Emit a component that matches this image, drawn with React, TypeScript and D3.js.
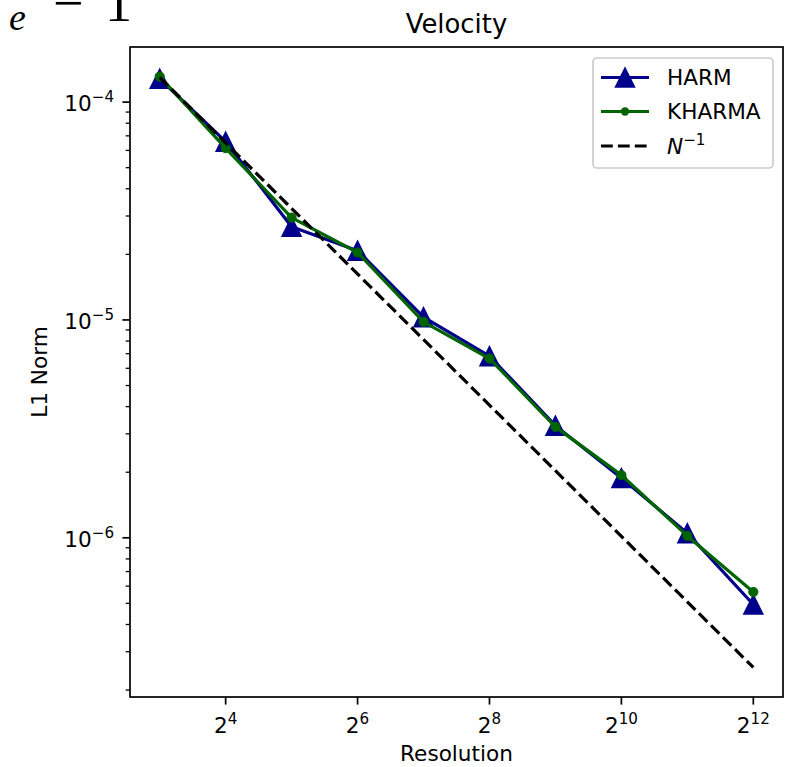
import React from "react";
import * as d3 from "d3";

const resolutions = [8, 16, 32, 64, 128, 256, 512, 1024, 2048, 4096];
const harmValues = [1.28e-4, 6.58e-5, 2.68e-5, 2.08e-5, 1.03e-5, 6.82e-6, 3.27e-6, 1.88e-6, 1.05e-6, 4.94e-7];
const kharmaValues = [1.31e-4, 6.15e-5, 2.95e-5, 2.04e-5, 9.8e-6, 6.65e-6, 3.23e-6, 1.94e-6, 1.02e-6, 5.64e-7];
const refResolutions = [8, 4096];
const refValues = [1.3e-4, 2.54e-7];
const xTickExps = [4, 6, 8, 10, 12];
const yTickExps = [-4, -5, -6];
const legendLabels = ["HARM", "KHARMA"];

const W = 800;
const H = 767;
const L = 130, R = 783, T = 47, B = 697;
const FONT = "DejaVu Sans, sans-serif";
const FS = 21.6;
const HARM_C = "#00008b";
const KHARMA_C = "#006400";
const LW = 3.2;

function logPad(vals: number[], base: number): [number, number] {
  const lo = Math.log(d3.min(vals)!) / Math.log(base);
  const hi = Math.log(d3.max(vals)!) / Math.log(base);
  const m = (hi - lo) * 0.05;
  return [Math.pow(base, lo - m), Math.pow(base, hi + m)];
}

export default function App() {
  const xDom = logPad(resolutions, 2);
  const yDom = logPad([...harmValues, ...kharmaValues, ...refValues], 10);
  const x = d3.scaleLog().base(2).domain(xDom).range([L, R]);
  const y = d3.scaleLog().domain(yDom).range([B, T]);

  const line = d3
    .line<[number, number]>()
    .x((d) => x(d[0]))
    .y((d) => y(d[1]));

  const harmPts = resolutions.map((r, i) => [r, harmValues[i]] as [number, number]);
  const kharmaPts = resolutions.map((r, i) => [r, kharmaValues[i]] as [number, number]);
  const refPts = refResolutions.map((r, i) => [r, refValues[i]] as [number, number]);

  const ms = 19;
  const tri = (cx: number, cy: number) =>
    `M${cx},${cy - ms / 2}L${cx - ms / 2},${cy + ms / 2}L${cx + ms / 2},${cy + ms / 2}Z`;

  const minor: number[] = [];
  for (let e = -8; e <= -3; e++) {
    for (let k = 2; k <= 9; k++) {
      const v = k * Math.pow(10, e);
      if (v >= yDom[0] && v <= yDom[1]) minor.push(v);
    }
  }

  const lx0 = 601, lx1 = 649, lmx = 625;
  const rows = [77.5, 111.5, 146];

  return (
    <svg
      width={W}
      height={H}
      style={{ position: "absolute", left: 0, top: 0, background: "#fff" }}
      fontFamily={FONT}
    >
      <rect x={0} y={0} width={W} height={H} fill="#fff" />
      {/* cropped fragment of a formula above the chart */}
      <g fontFamily="Liberation Serif, DejaVu Serif, serif" fill="#000">
        <text x={-14} y={-3} fontSize={52} fontStyle="italic">γ</text>
        <text x={9} y={30} fontSize={38} fontStyle="italic">e</text>
        <text x={53} y={21} fontSize={54}>−</text>
        <text x={105} y={21} fontSize={54}>1</text>
      </g>

      <text x={(L + R) / 2} y={33.3} textAnchor="middle" fontSize={25.9}>Velocity</text>

      <path d={line(harmPts)!} fill="none" stroke={HARM_C} strokeWidth={LW} strokeLinejoin="round" />
      {harmPts.map((p, i) => (
        <path key={"h" + i} d={tri(x(p[0]), y(p[1]))} fill={HARM_C} stroke={HARM_C} strokeWidth={1.5} />
      ))}
      <path d={line(kharmaPts)!} fill="none" stroke={KHARMA_C} strokeWidth={LW} strokeLinejoin="round" />
      {kharmaPts.map((p, i) => (
        <circle key={"k" + i} cx={x(p[0])} cy={y(p[1])} r={4.6} fill={KHARMA_C} stroke={KHARMA_C} strokeWidth={1} />
      ))}
      <path d={line(refPts)!} fill="none" stroke="#000" strokeWidth={LW} strokeDasharray="11.8,5.1" />

      <rect x={L} y={T} width={R - L} height={B - T} fill="none" stroke="#000" strokeWidth={1.7} />

      {xTickExps.map((e) => {
        const xp = x(Math.pow(2, e));
        return (
          <g key={"xt" + e}>
            <line x1={xp} x2={xp} y1={B} y2={B + 7.6} stroke="#000" strokeWidth={1.7} />
            <text x={xp} y={733} textAnchor="middle" fontSize={FS}>
              <tspan>2</tspan>
              <tspan fontSize={FS * 0.7} dy={-9}>{e}</tspan>
            </text>
          </g>
        );
      })}

      {yTickExps.map((e) => {
        const yp = y(Math.pow(10, e));
        return (
          <g key={"yt" + e}>
            <line x1={L} x2={L - 7.6} y1={yp} y2={yp} stroke="#000" strokeWidth={1.7} />
            <text x={114} y={yp + 9.2} textAnchor="end" fontSize={FS}>
              <tspan>10</tspan>
              <tspan fontSize={FS * 0.7} dy={-9}>{"−" + Math.abs(e)}</tspan>
            </text>
          </g>
        );
      })}
      {minor.map((v, i) => (
        <line key={"m" + i} x1={L} x2={L - 4.3} y1={y(v)} y2={y(v)} stroke="#000" strokeWidth={1.3} />
      ))}

      <text x={(L + R) / 2} y={761} textAnchor="middle" fontSize={FS}>Resolution</text>
      <text
        transform={`translate(47,${(T + B) / 2}) rotate(-90)`}
        textAnchor="middle"
        fontSize={FS}
      >
        L1 Norm
      </text>

      <rect x={593} y={58} width={180} height={110} rx={4} fill="#fff" fillOpacity={0.8} stroke="#cccccc" strokeWidth={1.7} />
      <line x1={lx0} x2={lx1} y1={rows[0]} y2={rows[0]} stroke={HARM_C} strokeWidth={LW} />
      <path d={tri(lmx, rows[0])} fill={HARM_C} stroke={HARM_C} strokeWidth={1.5} />
      <text x={667} y={rows[0] + 7.8} fontSize={FS}>{legendLabels[0]}</text>
      <line x1={lx0} x2={lx1} y1={rows[1]} y2={rows[1]} stroke={KHARMA_C} strokeWidth={LW} />
      <circle cx={lmx} cy={rows[1]} r={4.2} fill={KHARMA_C} />
      <text x={667} y={rows[1] + 7.8} fontSize={FS}>{legendLabels[1]}</text>
      <line x1={lx0} x2={lx1} y1={rows[2]} y2={rows[2]} stroke="#000" strokeWidth={LW} strokeDasharray="11.8,5.1" />
      <text x={667} y={rows[2] + 7.8} fontSize={FS}>
        <tspan fontStyle="italic">N</tspan>
        <tspan fontSize={FS * 0.7} dy={-9}>−1</tspan>
      </text>
    </svg>
  );
}
